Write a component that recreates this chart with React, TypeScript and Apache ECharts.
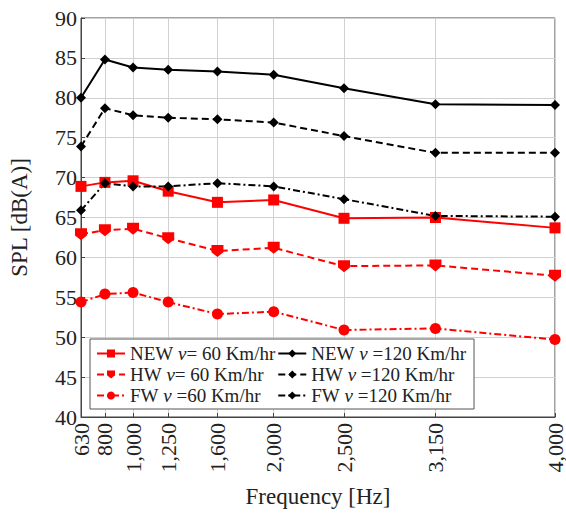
import React, { useEffect, useRef } from "react";
import * as echarts from "echarts";

const freqs = [630, 800, 1000, 1250, 1600, 2000, 2500, 3150, 4000];
const yTicks = [40, 45, 50, 55, 60, 65, 70, 75, 80, 85, 90];

const new60 = [68.9, 69.4, 69.6, 68.3, 66.9, 67.2, 64.9, 65.0, 63.7];
const hw60 = [62.9, 63.4, 63.6, 62.4, 60.8, 61.2, 58.9, 59.0, 57.7];
const fw60 = [54.4, 55.4, 55.6, 54.4, 52.9, 53.2, 50.9, 51.1, 49.7];
const new120 = [80.0, 84.8, 83.8, 83.5, 83.3, 82.9, 81.2, 79.2, 79.1];
const hw120 = [73.9, 78.7, 77.8, 77.5, 77.3, 76.9, 75.2, 73.1, 73.1];
const fw120 = [65.9, 69.3, 68.9, 68.9, 69.3, 68.9, 67.3, 65.2, 65.1];

const names = [
  "NEW {i|v}= 60 Km/hr",
  "HW {i|v}= 60 Km/hr",
  "FW {i|v} =60 Km/hr",
  "NEW {i|v} =120 Km/hr",
  "HW {i|v} =120 Km/hr",
  "FW {i|v} =120 Km/hr",
];

const FONT = "Liberation Serif";
const RED = "#ff0000";
const BLACK = "#000000";
const DASHED = [7, 4];
const DASHDOT = [7, 3, 2, 3];
const PENTA = "path://M0,0 L10,0 L10,6 L5,10 L0,6 Z";

function fmt(v: number) {
  return v >= 1000 ? String(v).replace(/(\d)(\d{3})$/, "$1,$2") : String(v);
}

const tickRich = { t: { fontFamily: FONT, fontSize: 22, color: "#222" } };
const nameRich = { n: { fontFamily: FONT, fontSize: 23, color: "#222" } };

export default function App() {
  const ref = useRef<HTMLDivElement>(null);
  useEffect(() => {
    document.body.style.margin = "0";
    if (!ref.current) return;
    const chart = echarts.init(ref.current, null, { renderer: "svg" });
    const mk = (
      idx: number,
      data: number[],
      color: string,
      type: any,
      symbol: string,
      size: number
    ) => ({
      name: names[idx],
      type: "line",
      data: freqs.map((f, i) => [f, data[i]]),
      symbol,
      symbolSize: size,
      showAllSymbol: true,
      z: 3,
      lineStyle: { color, width: 2, type },
      itemStyle: { color },
    });
    chart.setOption({
      animation: false,
      backgroundColor: "#ffffff",
      textStyle: { fontFamily: FONT },
      grid: {
        left: 76,
        right: 8,
        top: 18,
        bottom: 93,
        show: true,
        borderColor: "#444",
        borderWidth: 1,
      },
      legend: {
        orient: "vertical",
        left: 90,
        top: 339,
        height: 64,
        itemWidth: 28,
        itemHeight: 10,
        itemGap: 2,
        padding: [5, 8, 4, 6],
        backgroundColor: "#ffffff",
        borderColor: "#555",
        borderWidth: 1,
        z: 10,
        data: names,
        textStyle: {
          fontFamily: FONT,
          fontSize: 19,
          color: "#222",
          rich: {
            i: { fontFamily: FONT, fontSize: 19, fontStyle: "italic", color: "#222" },
          },
        },
      },
      xAxis: {
        type: "value",
        min: 630,
        max: 4000,
        name: "{n|Frequency [Hz]}",
        nameLocation: "middle",
        nameGap: 68,
        nameTextStyle: { fontFamily: FONT, fontSize: 23, color: "#222", rich: nameRich },
        axisLine: { show: true, lineStyle: { color: "#444" } },
        axisTick: { show: true, inside: true, length: 4, customValues: freqs, lineStyle: { color: "#444" } },
        axisLabel: {
          customValues: freqs,
          rotate: 90,
          margin: 6,
          fontFamily: FONT,
          fontSize: 22,
          color: "#222",
          rich: tickRich,
          formatter: (v: number) => "{t|" + fmt(v) + "}",
        },
        splitLine: { show: true, lineStyle: { color: "#d0d0d0", width: 1 } },
      },
      yAxis: {
        type: "value",
        min: 40,
        max: 90,
        interval: 5,
        name: "{n|SPL [dB(A)]}",
        nameLocation: "middle",
        nameGap: 50,
        nameTextStyle: { fontFamily: FONT, fontSize: 23, color: "#222", rich: nameRich },
        axisLine: { show: true, lineStyle: { color: "#444" } },
        axisTick: { show: true, inside: true, length: 4, lineStyle: { color: "#444" } },
        axisLabel: {
          margin: 4,
          fontFamily: FONT,
          fontSize: 22,
          color: "#222",
          customValues: yTicks,
          rich: tickRich,
          formatter: (v: number) => "{t|" + v + "}",
        },
        splitLine: { show: true, lineStyle: { color: "#d0d0d0", width: 1 } },
      },
      series: [
        mk(0, new60, RED, "solid", "rect", 11),
        mk(1, hw60, RED, DASHED, PENTA, 12),
        mk(2, fw60, RED, DASHDOT, "circle", 11),
        mk(3, new120, BLACK, "solid", "diamond", 10),
        mk(4, hw120, BLACK, DASHED, "diamond", 10),
        mk(5, fw120, BLACK, DASHDOT, "diamond", 10),
      ],
    });
    return () => chart.dispose();
  }, []);
  return <div ref={ref} style={{ width: 566, height: 513 }} />;
}
